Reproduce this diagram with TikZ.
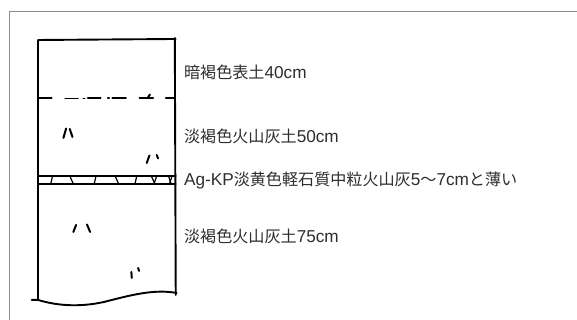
\documentclass[tikz,border=0pt]{standalone}
\usepackage{fontspec}
\newfontfamily\jpfont{Noto Sans CJK JP}
\newfontfamily\latfont{Liberation Sans}
% Latin runs inside the Japanese labels
\newcommand\latpart[1]{{\latfont\fontsize{17.2}{20}\selectfont #1}}
\definecolor{framegray}{HTML}{8C8C8C}
\definecolor{inkgray}{HTML}{2E2E2E}
\begin{document}
\begin{tikzpicture}[x=0.906pt,y=-1pt,
  wall/.style={line width=1.9pt, line cap=round, line join=round},
  hatch/.style={line width=2pt, line cap=round},
  grain/.style={line width=1.2pt, line cap=round},
  layerlabel/.style={anchor=base west, inner sep=0pt, text=inkgray,
    font=\jpfont\fontsize{16.1}{20}\selectfont}]
\useasboundingbox (0,0) rectangle (637,320);
\fill[white] (0,0) rectangle (637,320);
% outer frame
\draw[framegray, line width=1pt] (11,330) -- (11,12) -- (650,12);

% soil column walls
\draw[wall] (42,299) -- (42,40) -- (194,39);
\draw[wall] (193,38) -- (194,295);
% wavy base of the column
\draw[wall] (35,300) -- (42,300)
  .. controls (60,305) and (85,308) .. (115,302)
  .. controls (145,295) and (170,289) .. (195,293);

% dash-dot boundary between topsoil and ash soil
\draw[wall] (42,98) -- (57,98);
\draw[wall] (72,98.5) -- (86,98.5);
\draw[wall] (92,98.5) -- (93.5,98.5);
\draw[wall] (97,98) -- (111,98);
\draw[wall] (119,98) -- (120.5,98);
\draw[wall] (124,98) -- (139,98);
\draw[wall] (154,98) -- (169,98);
\draw[hatch] (163,98) -- (165.5,94.5);
\draw[wall] (183,98) -- (193,98);

% pumice band
\draw[wall] (42,176) -- (194,176);
\draw[wall] (42,184) -- (194,184);
\draw[grain] (56,184) -- (58,176);
\draw[grain] (77,176) -- (81,184);
\draw[grain] (104,184) -- (106,176);
\draw[grain] (127,176) -- (131,184);
\draw[grain] (149,184) -- (151,176);
\draw[grain] (167,176) -- (171,184);
\draw[grain] (173,176) -- (170,184);
\draw[grain] (186,176) -- (189,184);
\draw[grain] (190,176) -- (187,184);

% hatch marks in the ash soil
\draw[hatch] (70,138) -- (73,128.5);
\draw[hatch] (77,129) -- (80,137);
\draw[hatch] (162,163) .. controls (162.5,159) .. (165,155.5);
\draw[hatch] (173,155) -- (174.5,158.5);
\draw[hatch] (81,232) -- (84,225);
\draw[hatch] (96,224.5) -- (99.5,232);
\draw[hatch] (145,272) -- (145.5,278);
\draw[hatch] (152.5,268) -- (153.5,271);

% layer descriptions
\node[layerlabel] (topsoil) at (203,78.3) {暗褐色表土\latpart{40cm}};
\node[layerlabel] (ashupper) at (203,142.8) {淡褐色火山灰土\latpart{50cm}};
\node[layerlabel] (pumice) at (203,185.3) {\latpart{Ag-KP}淡黄色軽石質中粒火山灰\latpart{5}〜\latpart{7cm}と薄い};
\node[layerlabel] (ashlower) at (203,242.8) {淡褐色火山灰土\latpart{75cm}};
\end{tikzpicture}
\end{document}
